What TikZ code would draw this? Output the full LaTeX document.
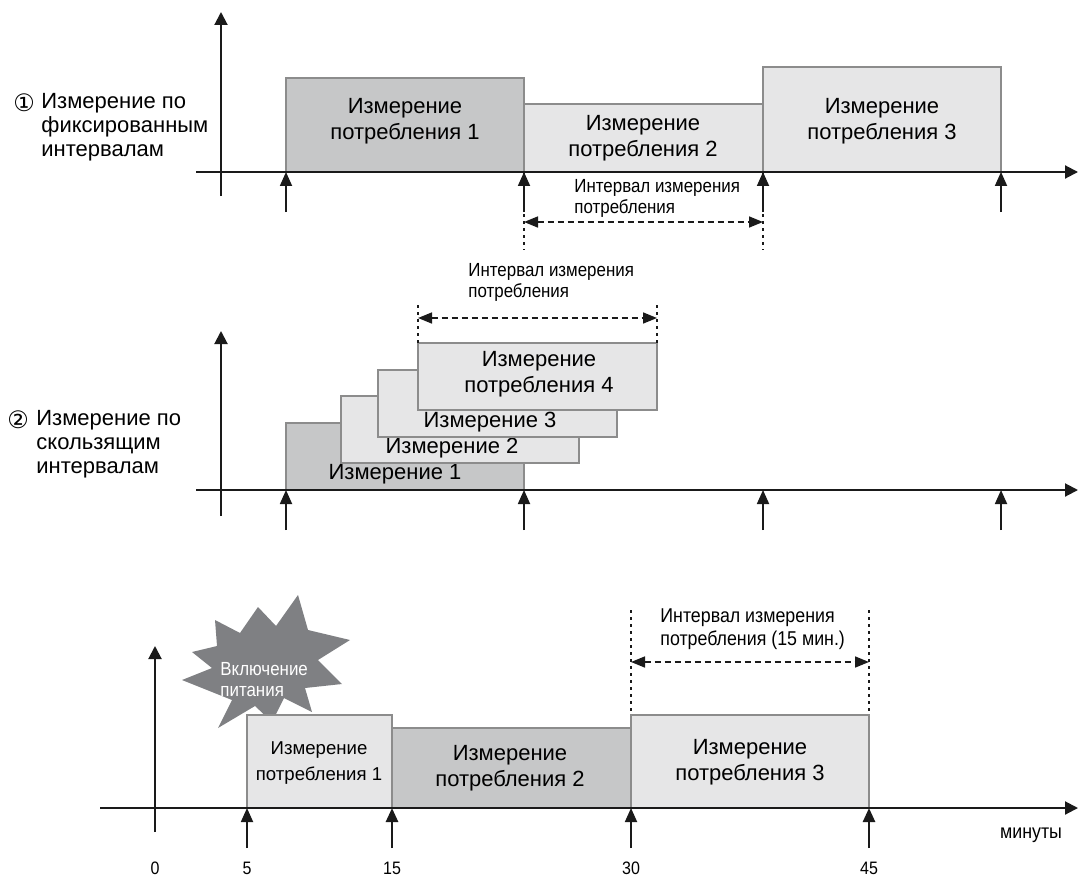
\documentclass[tikz,border=0pt]{standalone}
\usepackage{fontspec}
\setmainfont{Liberation Sans}
\newfontfamily\narrowfont[FakeStretch=0.89]{Liberation Sans}
\newfontfamily\circfont{DejaVu Sans}
\usepackage{tikz}
\usetikzlibrary{arrows.meta,positioning}
\definecolor{ink}{HTML}{1A1A1A}
\definecolor{barline}{HTML}{8C8C8C}
\definecolor{bardark}{HTML}{C6C7C8}
\definecolor{barlight}{HTML}{E6E6E7}
\definecolor{burstgray}{HTML}{7F8083}
\tikzset{
  axisarr/.style={-{Triangle[length=6.5pt,width=6.5pt]},line width=1pt,draw=ink},
  tickarr/.style={-{Triangle[length=7pt,width=6pt]},line width=0.9pt,draw=ink},
  boldtick/.style={tickarr,line width=1.3pt},
  darkbar/.style={fill=bardark,draw=barline,line width=0.8pt},
  lightbar/.style={fill=barlight,draw=barline,line width=0.8pt},
  spanarr/.style={{Triangle[length=7pt,width=5.5pt]}-{Triangle[length=7pt,width=5.5pt]},
                  line width=0.8pt,dash pattern=on 3pt off 2pt,draw=ink},
  guide/.style={line width=0.8pt,dash pattern=on 1.5pt off 2pt,draw=ink},
  bartext/.style={align=center,inner sep=0pt,font=\fontsize{11}{13}\selectfont},
  smalltext/.style={align=center,inner sep=0pt,font=\fontsize{9.3}{13}\selectfont},
  sidetext/.style={align=left,anchor=north west,inner sep=0pt,
                   font=\fontsize{11}{12}\selectfont},
  circnum/.style={anchor=north west,inner sep=0pt,font=\circfont\fontsize{12}{12}\selectfont},
  note/.style={align=left,anchor=north west,inner sep=0pt,
               font=\narrowfont\fontsize{9.5}{10.3}\selectfont},
  numtext/.style={inner sep=0pt,font=\narrowfont\fontsize{9}{10}\selectfont},
  burst/.style={fill=burstgray,draw=none}
}

\begin{document}
\begin{tikzpicture}[x=0.5pt,y=-0.5pt]
    \path[use as bounding box] (0,0) rectangle (1079,877);

    % (1) fixed intervals
    \node[circnum] (n1) at (13,93) {①};
    \node[sidetext] (lab1) at (41,93) {Измерение по\\фиксированным\\интервалам};

    \draw[darkbar] (286,78) rectangle (524,172);
    \draw[lightbar] (524,104) rectangle (763,172);
    \draw[lightbar] (763,67) rectangle (1001,172);
    \node[bartext] (f1) at (405,121) {Измерение\\потребления 1};
    \node[bartext] (f2) at (643,138) {Измерение\\потребления 2};
    \node[bartext] (f3) at (882,121) {Измерение\\потребления 3};

    \coordinate (x1a) at (196,172);  \coordinate (x1b) at (1078,172);
    \coordinate (y1a) at (221,196);  \coordinate (y1b) at (221,12);
    \draw[axisarr] (x1a) -- (x1b);
    \draw[axisarr] (y1a) -- (y1b);

    \coordinate (p1a) at (286,212);  \coordinate (q1a) at (286,172);
    \coordinate (p1b) at (524,212);  \coordinate (q1b) at (524,172);
    \coordinate (p1c) at (763,212);  \coordinate (q1c) at (763,172);
    \coordinate (p1d) at (1001,212); \coordinate (q1d) at (1001,172);
    \draw[tickarr] (p1a) -- (q1a);
    \draw[tickarr] (p1b) -- (q1b);
    \draw[tickarr] (p1c) -- (q1c);
    \draw[tickarr] (p1d) -- (q1d);

    \coordinate (g1a) at (524,250); \coordinate (g1b) at (763,250);
    \draw[guide] (q1b) -- (g1a);
    \draw[guide] (q1c) -- (g1b);
    \coordinate (s1a) at (524,222); \coordinate (s1b) at (763,222);
    \draw[spanarr] (s1a) -- (s1b);
    \node[note] (int1) at (574,179) {Интервал измерения\\потребления};

    % (2) sliding intervals
    \node[circnum] (n2) at (7,410) {②};
    \node[sidetext] (lab2) at (36,410) {Измерение по\\скользящим\\интервалам};

    \draw[darkbar] (286,423) rectangle (524,490);
    \node[bartext] (w1) at (395,474) {Измерение 1};
    \draw[lightbar] (341,396) rectangle (579,463);
    \node[bartext] (w2) at (452,448) {Измерение 2};
    \draw[lightbar] (378,370) rectangle (617,437);
    \node[bartext] (w3) at (490,422) {Измерение 3};
    \draw[lightbar] (418,343) rectangle (657,410);
    \node[bartext] (w4) at (539,374) {Измерение\\потребления 4};

    \coordinate (x2a) at (196,490);  \coordinate (x2b) at (1078,490);
    \coordinate (y2a) at (221,516);  \coordinate (y2b) at (221,331);
    \draw[axisarr] (x2a) -- (x2b);
    \draw[axisarr] (y2a) -- (y2b);

    \coordinate (p2a) at (286,530);  \coordinate (q2a) at (286,490);
    \coordinate (p2b) at (524,530);  \coordinate (q2b) at (524,490);
    \coordinate (p2c) at (763,530);  \coordinate (q2c) at (763,490);
    \coordinate (p2d) at (1001,530); \coordinate (q2d) at (1001,490);
    \draw[tickarr] (p2a) -- (q2a);
    \draw[tickarr] (p2b) -- (q2b);
    \draw[tickarr] (p2c) -- (q2c);
    \draw[tickarr] (p2d) -- (q2d);

    \coordinate (g2a) at (418,305); \coordinate (h2a) at (418,343);
    \coordinate (g2b) at (657,305); \coordinate (h2b) at (657,343);
    \draw[guide] (g2a) -- (h2a);
    \draw[guide] (g2b) -- (h2b);
    \coordinate (s2a) at (418,318); \coordinate (s2b) at (657,318);
    \draw[spanarr] (s2a) -- (s2b);
    \node[note] (int2) at (468,263) {Интервал измерения\\потребления};

    % (3) power on, 15 min
    \fill[burst] (298,595) -- (308,630) -- (350,640) -- (318,660) -- (342,684)
      -- (305,688) -- (312,712) -- (284,698) -- (272,722) -- (255,706)
      -- (218,728) -- (232,700) -- (182,680) -- (212,668) -- (192,652)
      -- (217,646) -- (215,620) -- (240,633) -- (258,607) -- (276,626) -- cycle;
    \node[note,text=white] (pwr) at (220,662) {Включение\\питания};

    \draw[lightbar] (247,715) rectangle (392,808);
    \draw[darkbar] (392,728) rectangle (631,808);
    \draw[lightbar] (631,715) rectangle (869,808);
    \node[smalltext] (m1) at (319,763) {Измерение\\потребления 1};
    \node[bartext] (m2) at (510,768) {Измерение\\потребления 2};
    \node[bartext] (m3) at (750,762) {Измерение\\потребления 3};

    \coordinate (x3a) at (100,808);  \coordinate (x3b) at (1078,808);
    \coordinate (y3a) at (155,832);  \coordinate (y3b) at (155,646);
    \draw[axisarr] (x3a) -- (x3b);
    \draw[axisarr] (y3a) -- (y3b);

    \coordinate (p3a) at (247,848); \coordinate (q3a) at (247,808);
    \coordinate (p3b) at (392,848); \coordinate (q3b) at (392,808);
    \coordinate (p3c) at (631,848); \coordinate (q3c) at (631,808);
    \coordinate (p3d) at (869,848); \coordinate (q3d) at (869,808);
    \draw[tickarr] (p3a) -- (q3a);
    \draw[boldtick] (p3b) -- (q3b);
    \draw[tickarr] (p3c) -- (q3c);
    \draw[boldtick] (p3d) -- (q3d);

    \coordinate (g3a) at (631,610); \coordinate (h3a) at (631,715);
    \coordinate (g3b) at (869,610); \coordinate (h3b) at (869,715);
    \draw[guide] (g3a) -- (h3a);
    \draw[guide] (g3b) -- (h3b);
    \coordinate (s3a) at (631,662); \coordinate (s3b) at (869,662);
    \draw[spanarr] (s3a) -- (s3b);
    \node[note,font=\narrowfont\fontsize{10}{11.5}\selectfont] (int3) at (660,608)
      {Интервал измерения\\потребления (15 мин.)};

    \node[numtext] (t0) at (155,868) {0};
    \node[numtext] (t5) at (247,868) {5};
    \node[numtext] (t15) at (392,868) {15};
    \node[numtext] (t30) at (631,868) {30};
    \node[numtext] (t45) at (869,868) {45};
    \node[numtext,font=\narrowfont\fontsize{10}{11}\selectfont] (unit) at (1031,835) {минуты};
\end{tikzpicture}
\end{document}
